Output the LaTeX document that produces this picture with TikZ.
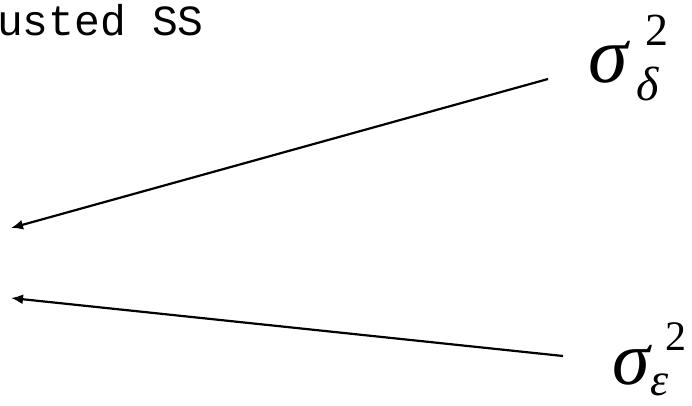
\documentclass[tikz,border=0pt]{standalone}
\usepackage{fontspec}
\setmainfont{Liberation Serif}
\setmonofont{Liberation Mono}
\usetikzlibrary{arrows.meta}
\tikzset{
  conn/.style={line width=2.2pt, -{Latex[length=12pt,width=10pt]}},
  big/.style={inner sep=0pt, anchor=base west, text depth=0pt, font=\fontsize{#1}{#1}\selectfont\itshape},
  sup/.style={inner sep=0pt, anchor=base west, text depth=0pt, font=\fontsize{#1}{#1}\selectfont},
  lbl/.style={inner sep=0pt, anchor=base west, text height=27pt, text depth=0pt, font=\fontsize{43}{43}\selectfont\ttfamily}
}
\begin{document}
\begin{tikzpicture}[x=1pt,y=-1pt]
\useasboundingbox (0,0) rectangle (692,405);
\node[lbl] (ss) at (-3,35) {usted SS};
% sigma delta
\node[big=80] (sd) at (588,82) {σ};
\node[sup=46] (sd2) at (645,45) {2};
\node[big=48] (sdd) at (636,100) {δ};
% sigma epsilon
\node[big=76] (se) at (612,384) {σ};
\node[sup=42] (se2) at (665,350) {2};
\node[big=46] (see) at (650,395) {ε};
\coordinate (a1) at (548,79);
\coordinate (t1) at (11,228);
\coordinate (a2) at (563,356);
\coordinate (t2) at (11,298);
\draw[conn] (a1) -- (t1);
\draw[conn] (a2) -- (t2);
\end{tikzpicture}
\end{document}
